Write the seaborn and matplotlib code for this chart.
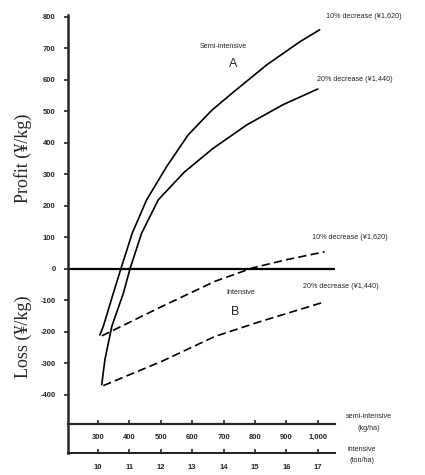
import numpy as np
import pandas as pd
import matplotlib
matplotlib.use("Agg")
import matplotlib.pyplot as plt
import seaborn as sns

sns.set_style("ticks")
plt.rcParams["font.family"] = ["Liberation Sans", "DejaVu Sans"]

# semi-intensive curves (x in kg/ha)
semi10_x = [306, 317, 349, 373, 409, 455, 519, 587, 662, 730, 838, 943, 1006]
semi10_y = [-210, -183, -77, 0, 113, 219, 325, 425, 503, 560, 648, 721, 759]
semi20_x = [312, 322, 344, 381, 402, 439, 492, 575, 666, 774, 889, 1000]
semi20_y = [-368, -289, -183, -77, 0, 113, 219, 307, 382, 457, 521, 571]

# intensive curves (plotted on the same horizontal scale)
int10_x = [312, 503, 672, 793, 901, 1022]
int10_y = [-213, -120, -40, 3, 29, 54]
int20_x = [317, 503, 672, 806, 1022]
int20_y = [-371, -294, -215, -171, -105]

semi_ticks = [300, 400, 500, 600, 700, 800, 900, 1000]
semi_labels = ["300", "400", "500", "600", "700", "800", "900", "1,000"]
ton_ticks = [10, 11, 12, 13, 14, 15, 16, 17]
y_ticks = [800, 700, 600, 500, 400, 300, 200, 100, 0, -100, -200, -300, -400]


def kg_to_ton(v):
    return (np.asarray(v) - 300) / 100 + 10


def ton_to_kg(v):
    return (np.asarray(v) - 10) * 100 + 300


fig = plt.figure(figsize=(4.25, 4.75), dpi=100)
ax = fig.add_axes([68 / 425, 1 - 453 / 475, 267 / 425, (453 - 15) / 475])

solid = dict(color="black", lw=1.2, sort=False, ax=ax)
sns.lineplot(x=semi10_x, y=semi10_y, **solid)
sns.lineplot(x=semi20_x, y=semi20_y, **solid)
sns.lineplot(x=int10_x, y=int10_y, linestyle=(0, (5, 2.5)), **solid)
sns.lineplot(x=int20_x, y=int20_y, linestyle=(0, (5, 2.5)), **solid)

ax.axhline(0, color="black", lw=1.6)
ax.set_xlim(204.5, 1055)
ax.set_ylim(-585, 806)

# y axis
ax.set_yticks(y_ticks)
ax.set_yticklabels([str(t) for t in y_ticks], fontsize=5.5, fontweight="bold")
ax.tick_params(axis="y", direction="out", length=3, width=1.2, pad=6)
ax.tick_params(axis="x", bottom=False, labelbottom=False)
for s in ["top", "right"]:
    ax.spines[s].set_visible(False)
ax.spines["left"].set_linewidth(1.8)
ax.spines["bottom"].set_linewidth(1.4)

# semi-intensive axis (kg/ha)
sec1 = ax.secondary_xaxis(29 / 438)
sec1.set_xticks(semi_ticks)
sec1.set_xticklabels(semi_labels, fontsize=5.5, fontweight="bold")
sec1.tick_params(direction="in", length=3, width=1.2, pad=7)
sec1.spines["bottom"].set_linewidth(1.6)

# intensive axis (ton/ha)
sec2 = ax.secondary_xaxis("bottom", functions=(kg_to_ton, ton_to_kg))
sec2.set_xticks(ton_ticks)
sec2.set_xticklabels([str(t) for t in ton_ticks], fontsize=5.5, fontweight="bold")
sec2.tick_params(direction="in", length=3, width=1.2, pad=8)
sec2.spines["bottom"].set_linewidth(1.4)

lab = dict(fontsize=5.2, ha="center", va="center", clip_on=False)
ax.text(698, 705, "Semi-intensive", **lab)
ax.text(730, 651, "A", fontsize=9, ha="center", va="center")
ax.text(1147, 800, "10% decrease (¥1,620)", **lab)
ax.text(1118, 600, "20% decrease (¥1,440)", **lab)
ax.text(1103, 98, "10% decrease (¥1,620)", **lab)
ax.text(755, -76, "Intensive", **lab)
ax.text(736, -137, "B", fontsize=9, ha="center", va="center")
ax.text(1074, -57, "20% decrease (¥1,440)", **lab)
ax.text(1163, -489, "semi-intensive\n(kg/ha)", linespacing=2.0, **lab)
ax.text(1141, -592, "intensive\n(ton/ha)", linespacing=1.9, **lab)

serif = dict(family=["Liberation Serif", "DejaVu Serif"], fontsize=13,
             rotation=90, ha="center", va="center")
fig.text(23 / 425, 1 - 158 / 475, "Profit (¥/kg)", **serif)
fig.text(23 / 425, 1 - 337 / 475, "Loss (¥/kg)", **serif)

fig.savefig("out.png", dpi=100)
